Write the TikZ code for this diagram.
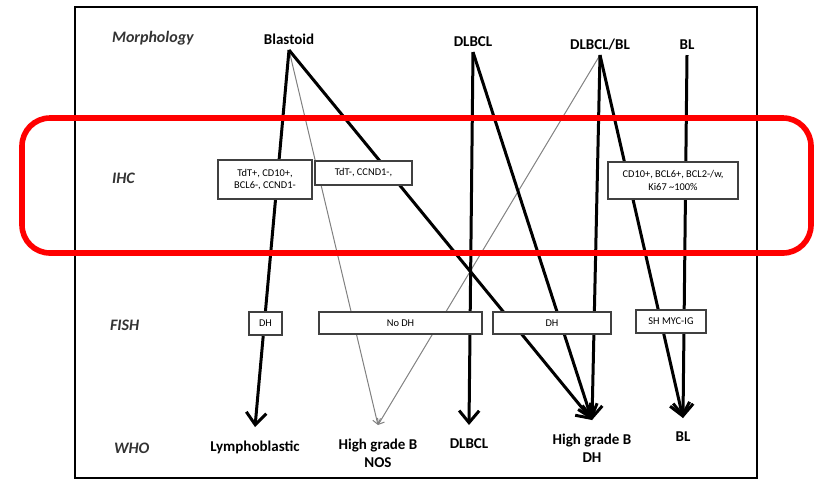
\documentclass[tikz,border=0pt]{standalone}
\usepackage{fontspec}
\setmainfont{Carlito}
\usetikzlibrary{arrows.meta}

\tikzset{
    rowlabel/.style={anchor=west, font=\fontsize{8}{9.5}\selectfont\bfseries\itshape, text=black!80},
    morph/.style={anchor=south, font=\fontsize{7.5}{9}\selectfont\bfseries, text depth=0pt, inner sep=0pt, outer sep=3pt},
    who/.style={anchor=north, font=\fontsize{7.5}{9}\selectfont\bfseries, align=center, inner sep=0pt, outer sep=7pt},
    testbox/.style={draw=black!75, line width=0.7pt, fill=white, inner sep=0pt, align=center, font=\fontsize{5.2}{6.2}\selectfont},
    bold line/.style={line width=1.5pt, -{Straight Barb[length=6pt,width=10pt]}},
    faint line/.style={line width=0.5pt, black!50, -{Straight Barb[length=2.5pt,width=4pt]}}
}

\begin{document}
\begin{tikzpicture}[x=0.5pt, y=-0.5pt]
    \useasboundingbox (0,0) rectangle (819,479);

    % frame
    \draw[line width=1pt] (75,7) rectangle (757,478);

    % rows
    \node[rowlabel] at (105,38) {Morphology};
    \node[rowlabel] at (105,178) {IHC};
    \node[rowlabel] at (103,325) {FISH};
    \node[rowlabel] at (107,448) {WHO};

    % morphology
    \node[morph] (blastoid) at (289,50) {Blastoid};
    \node[morph] (dlbcl) at (473,52) {DLBCL};
    \node[morph] (dlbclbl) at (600,55) {DLBCL/BL};
    \node[morph] (bl) at (687,55) {BL};

    % WHO
    \node[who] (lympho) at (255,427) {Lymphoblastic};
    \node[who] (nos) at (378,425) {High grade B\\NOS};
    \node[who] (whodlbcl) at (469,425) {DLBCL};
    \node[who] (hgdh) at (592,420) {High grade B\\DH};
    \node[who] (whobl) at (683,418) {BL};

    % paths
    \draw[faint line] (blastoid.south) -- (nos.north);
    \draw[faint line] (dlbclbl.south) -- (nos.north);
    \draw[bold line] (blastoid.south) -- (lympho.north);
    \draw[bold line] (blastoid.south) -- (hgdh.north);
    \draw[bold line] (dlbcl.south) -- (whodlbcl.north);
    \draw[bold line] (dlbcl.south) -- (hgdh.north);
    \draw[bold line] (dlbclbl.south) -- (hgdh.north);
    \draw[bold line] (dlbclbl.south) -- (whobl.north);
    \draw[bold line] (bl.south) -- (whobl.north);

    % IHC
    \node[testbox, minimum width=47pt, minimum height=19.5pt] (ihcA) at (265,179.5) {TdT+, CD10+,\\BCL6-, CCND1-};
    \node[testbox, minimum width=48.5pt, minimum height=12pt] (ihcB) at (363.5,173) {TdT-, CCND1-,};
    \node[testbox, minimum width=65pt, minimum height=18.5pt] (ihcC) at (673,180.5) {CD10+, BCL6+, BCL2-/w,\\Ki67 \textasciitilde100\%};

    % FISH
    \node[testbox, minimum width=16.5pt, minimum height=11.5pt] (fishA) at (265.5,323.5) {DH};
    \node[testbox, minimum width=81.5pt, minimum height=11pt] (fishB) at (400.5,323) {No DH};
    \node[testbox, minimum width=59pt, minimum height=11pt] (fishC) at (552,323) {DH};
    \node[testbox, minimum width=35pt, minimum height=11.5pt] (fishD) at (671,321.5) {SH MYC-IG};

    % highlight
    \draw[red, line width=2.8pt, rounded corners=14pt] (22,118) rectangle (811,253);
\end{tikzpicture}
\end{document}
